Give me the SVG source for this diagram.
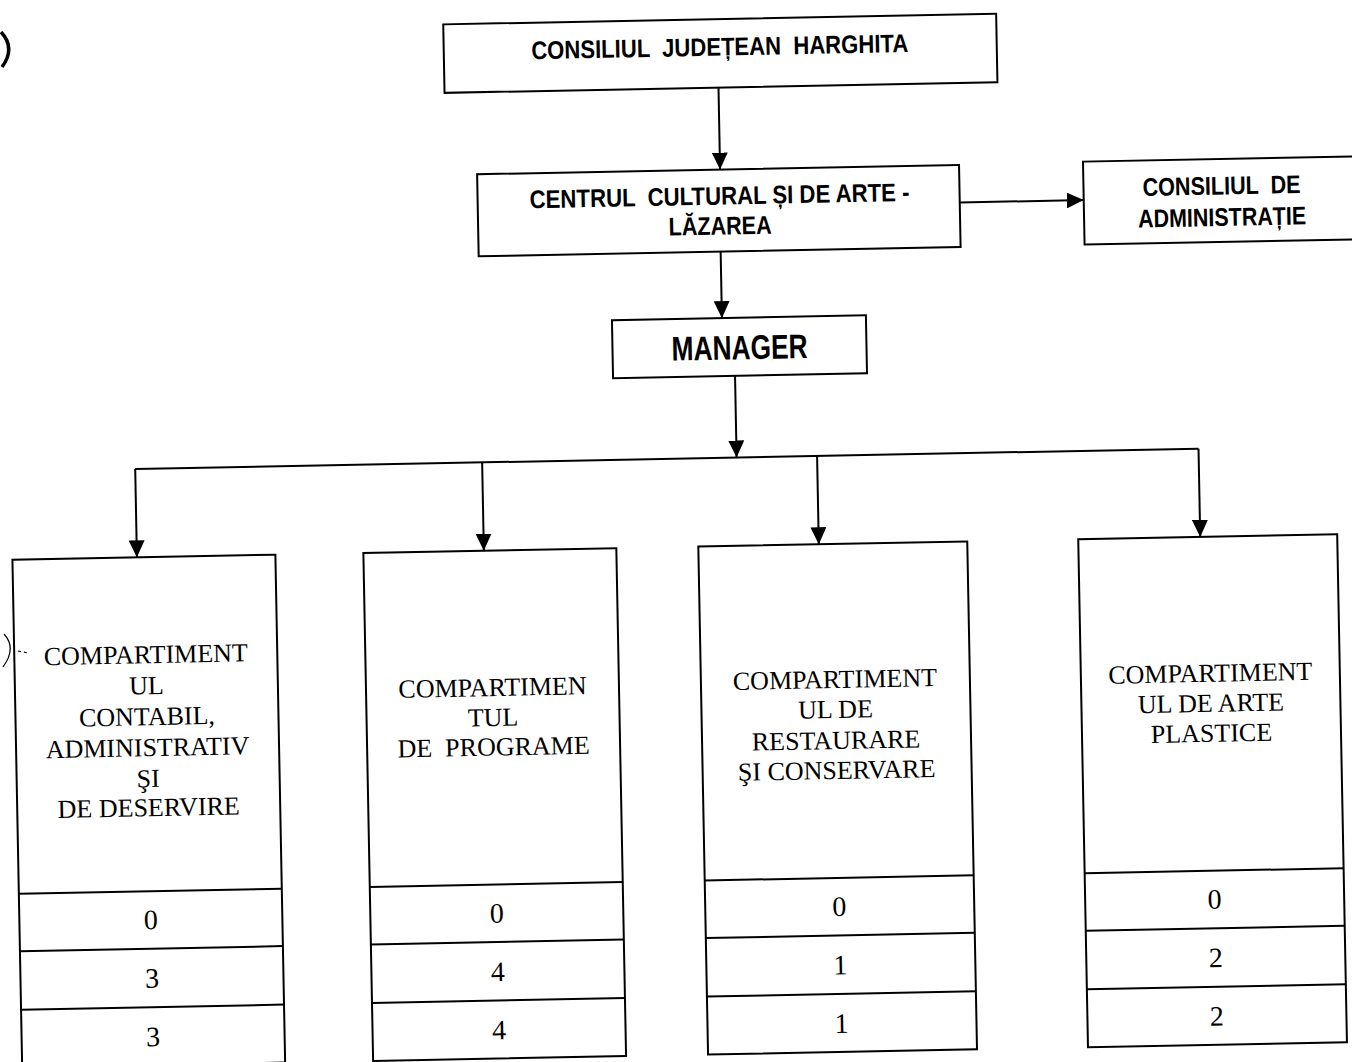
<svg xmlns="http://www.w3.org/2000/svg" width="1352" height="1062" viewBox="0 0 1352 1062">
<defs>
<marker id="ah" markerUnits="userSpaceOnUse" markerWidth="17" markerHeight="16" viewBox="0 0 17 16" refX="17" refY="8" orient="auto">
<path d="M0,0 L17,8 L0,16 Z" fill="#000"/>
</marker>
<style>
.box{fill:#fff;stroke:#000;stroke-width:2}
.div{stroke:#000;stroke-width:2;fill:none}
.con{stroke:#000;stroke-width:2;fill:none}
.arr{stroke:#000;stroke-width:2;fill:none;marker-end:url(#ah)}
.hb{font-family:"Liberation Sans",Arial,sans-serif;font-weight:bold;font-size:25.5px;fill:#000;text-anchor:middle}
.mg{font-family:"Liberation Sans",Arial,sans-serif;font-weight:bold;font-size:34px;fill:#000;text-anchor:middle}
.sf{font-family:"Liberation Serif","Times New Roman",serif;font-size:26px;fill:#000;text-anchor:middle}
.nm{font-family:"Liberation Serif","Times New Roman",serif;font-size:28px;fill:#000;text-anchor:middle}
.mark{stroke:#000;fill:none}
</style>
</defs>
<rect width="1352" height="1062" fill="#fff"/>
<g transform="rotate(-1.1 676 531)">
<g id="connectors">
<line class="arr" x1="727" y1="88.5" x2="727" y2="170.5"/>
<line class="arr" x1="966" y1="208" x2="1090" y2="208"/>
<line class="arr" x1="726" y1="252.5" x2="726" y2="319"/>
<line class="arr" x1="738" y1="377" x2="738" y2="458.7"/>
<line class="con" x1="136.5" y1="458.7" x2="1200" y2="458.7"/>
<line class="arr" x1="136.5" y1="458.7" x2="136.5" y2="547"/>
<line class="arr" x1="483.5" y1="458.7" x2="483.5" y2="547"/>
<line class="arr" x1="818.5" y1="458.7" x2="818.5" y2="547"/>
<line class="arr" x1="1200" y1="458.7" x2="1200" y2="547"/>
</g>
<g id="n-consiliul-judetean">
<rect class="box" x="453" y="20" width="553" height="68.5"/>
<text class="hb" x="729" y="56.5" textLength="377" lengthAdjust="spacingAndGlyphs" xml:space="preserve">CONSILIUL  JUDEȚEAN  HARGHITA</text>
</g>
<g id="n-centrul">
<rect class="box" x="484" y="170.5" width="482" height="82"/>
<text class="hb" x="726" y="205.5" textLength="380" lengthAdjust="spacingAndGlyphs" xml:space="preserve">CENTRUL  CULTURAL ȘI DE ARTE -</text>
<text class="hb" x="726" y="235.5" textLength="103" lengthAdjust="spacingAndGlyphs">LĂZAREA</text>
</g>
<g id="n-consiliul-admin">
<rect class="box" x="1090" y="169.5" width="290" height="83"/>
<text class="hb" x="1228" y="205" textLength="158" lengthAdjust="spacingAndGlyphs" xml:space="preserve">CONSILIUL  DE</text>
<text class="hb" x="1228" y="236.5" textLength="168" lengthAdjust="spacingAndGlyphs">ADMINISTRAȚIE</text>
</g>
<g id="n-manager">
<rect class="box" x="616" y="319" width="254" height="58"/>
<text class="mg" x="743" y="360.5" textLength="136" lengthAdjust="spacingAndGlyphs">MANAGER</text>
</g>
<g id="n-comp-contabil">
<rect class="box" x="12" y="547" width="263" height="508"/>
<line class="div" x1="12" y1="881" x2="275" y2="881"/>
<line class="div" x1="12" y1="938.5" x2="275" y2="938.5"/>
<line class="div" x1="12" y1="997" x2="275" y2="997"/>
<text class="sf" x="143.5" y="653">COMPARTIMENT</text>
<text class="sf" x="143.5" y="684">UL</text>
<text class="sf" x="143.5" y="715">CONTABIL,</text>
<text class="sf" x="143.5" y="746">ADMINISTRATIV</text>
<text class="sf" x="143.5" y="777">ŞI</text>
<text class="sf" x="143.5" y="806">DE DESERVIRE</text>
<text class="nm" x="143.5" y="919">0</text>
<text class="nm" x="143.5" y="977.5">3</text>
<text class="nm" x="143.5" y="1036">3</text>
</g>
<g id="n-comp-programe">
<rect class="box" x="363" y="547" width="253" height="508"/>
<line class="div" x1="363" y1="881" x2="616" y2="881"/>
<line class="div" x1="363" y1="938.5" x2="616" y2="938.5"/>
<line class="div" x1="363" y1="997" x2="616" y2="997"/>
<text class="sf" x="489.5" y="692.5">COMPARTIMEN</text>
<text class="sf" x="489.5" y="722.5">TUL</text>
<text class="sf" x="489.5" y="752" xml:space="preserve">DE  PROGRAME</text>
<text class="nm" x="489.5" y="919">0</text>
<text class="nm" x="489.5" y="977.5">4</text>
<text class="nm" x="489.5" y="1036">4</text>
</g>
<g id="n-comp-restaurare">
<rect class="box" x="698" y="547" width="269" height="508"/>
<line class="div" x1="698" y1="881" x2="967" y2="881"/>
<line class="div" x1="698" y1="938.5" x2="967" y2="938.5"/>
<line class="div" x1="698" y1="997" x2="967" y2="997"/>
<text class="sf" x="832" y="691">COMPARTIMENT</text>
<text class="sf" x="832" y="721">UL DE</text>
<text class="sf" x="832" y="752">RESTAURARE</text>
<text class="sf" x="832" y="782">ŞI CONSERVARE</text>
<text class="nm" x="832" y="919">0</text>
<text class="nm" x="832" y="977.5">1</text>
<text class="nm" x="832" y="1036">1</text>
</g>
<g id="n-comp-arte">
<rect class="box" x="1078" y="547" width="259" height="508"/>
<line class="div" x1="1078" y1="881" x2="1337" y2="881"/>
<line class="div" x1="1078" y1="938.5" x2="1337" y2="938.5"/>
<line class="div" x1="1078" y1="997" x2="1337" y2="997"/>
<text class="sf" x="1207.5" y="692">COMPARTIMENT</text>
<text class="sf" x="1207.5" y="722">UL DE ARTE</text>
<text class="sf" x="1207.5" y="752">PLASTICE</text>
<text class="nm" x="1207.5" y="919">0</text>
<text class="nm" x="1207.5" y="977.5">2</text>
<text class="nm" x="1207.5" y="1036">2</text>
</g>
</g>
<path class="mark" stroke-width="3.5" d="M1,32 Q16,48 2,67"/>
<path class="mark" stroke-width="1.2" d="M4,634 Q17,648 3,667"/>
<path class="mark" stroke-width="1.2" stroke-dasharray="3,3" d="M18,651 L28,653"/>
</svg>
